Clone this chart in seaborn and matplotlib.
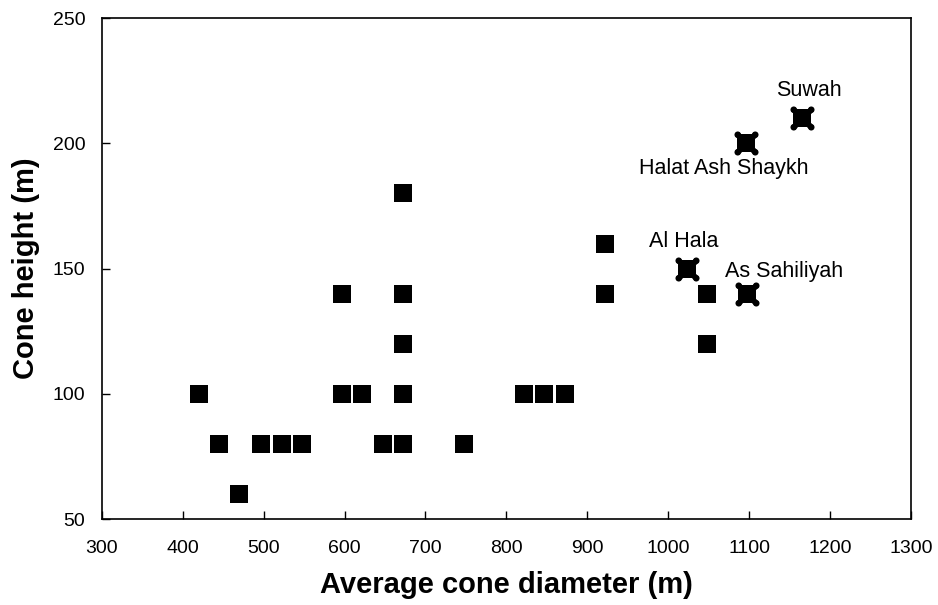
import matplotlib
matplotlib.use("Agg")
import matplotlib.pyplot as plt
from matplotlib.path import Path
from matplotlib.transforms import Affine2D
import seaborn as sns
import pandas as pd

# Ordinary cones
diameter = [420, 445, 470, 497, 522, 547, 597, 597, 622, 647, 672, 672, 672, 672, 672,
            747, 822, 847, 872, 922, 922, 1048, 1048]
height = [100, 80, 60, 80, 80, 80, 140, 100, 100, 80, 180, 140, 120, 100, 80,
          80, 100, 100, 100, 160, 140, 140, 120]

# Named cones
named = ["Al Hala", "As Sahiliyah", "Halat Ash Shaykh", "Suwah"]
named_diameter = [1023, 1097, 1096, 1165]
named_height = [150, 140, 200, 210]

x_ticks = [300, 400, 500, 600, 700, 800, 900, 1000, 1100, 1200, 1300]
y_ticks = [50, 100, 150, 200, 250]

sns.set_theme(style="white")
plt.rcParams['font.family'] = ['Liberation Sans', 'DejaVu Sans']

fig = plt.figure(figsize=(9.38, 6.05), dpi=100)
ax = fig.add_axes([0.1087, 0.1421, 0.971 - 0.1087, 0.970 - 0.1421])

df = pd.DataFrame({"d": diameter, "h": height})
dn = pd.DataFrame({"d": named_diameter, "h": named_height, "name": named})

sns.scatterplot(data=df, x="d", y="h", marker="s", s=150, color="black",
                edgecolor="black", linewidth=0, ax=ax, zorder=3)

# named cones: square with round knobs at its corners
circ = Path.unit_circle()
knobs = Path.make_compound_path(*[
    circ.transformed(Affine2D().scale(0.27).translate(sx * 0.73, sy * 0.73))
    for sx, sy in [(1, 1), (-1, 1), (-1, -1), (1, -1)]
])
sns.scatterplot(data=dn, x="d", y="h", marker="s", s=165, color="black",
                edgecolor="black", linewidth=0, ax=ax, zorder=3)
sns.scatterplot(data=dn, x="d", y="h", marker="x", s=190, color="black",
                linewidth=4.2, ax=ax, zorder=3)
sns.scatterplot(data=dn, x="d", y="h", marker=knobs, s=300, color="black",
                edgecolor="black", linewidth=0, ax=ax, zorder=3)

label_pos = {"Al Hala": (1019, 161),
             "As Sahiliyah": (1143, 149),
             "Halat Ash Shaykh": (1069, 190),
             "Suwah": (1174, 221)}
for name in named:
    lx, ly = label_pos[name]
    ax.text(lx, ly, name, ha="center", va="center", fontsize=15.5, color="black")

ax.set_xlim(300, 1300)
ax.set_ylim(50, 250)
ax.set_xticks(x_ticks)
ax.set_yticks(y_ticks)
ax.tick_params(direction="in", length=6, width=1, labelsize=14, colors="black",
               top=False, right=False, bottom=True, left=True)
ax.tick_params(axis="y", pad=12)
ax.tick_params(axis="x", pad=15)
for s in ax.spines.values():
    s.set_color("black")
    s.set_linewidth(1.2)

ax.set_xlabel("Average cone diameter (m)", fontsize=21, fontweight="bold",
              labelpad=10, color="black")
ax.set_ylabel("Cone height (m)", fontsize=21, fontweight="bold",
              labelpad=9, color="black")

fig.savefig("out.png", dpi=100, facecolor="white")
